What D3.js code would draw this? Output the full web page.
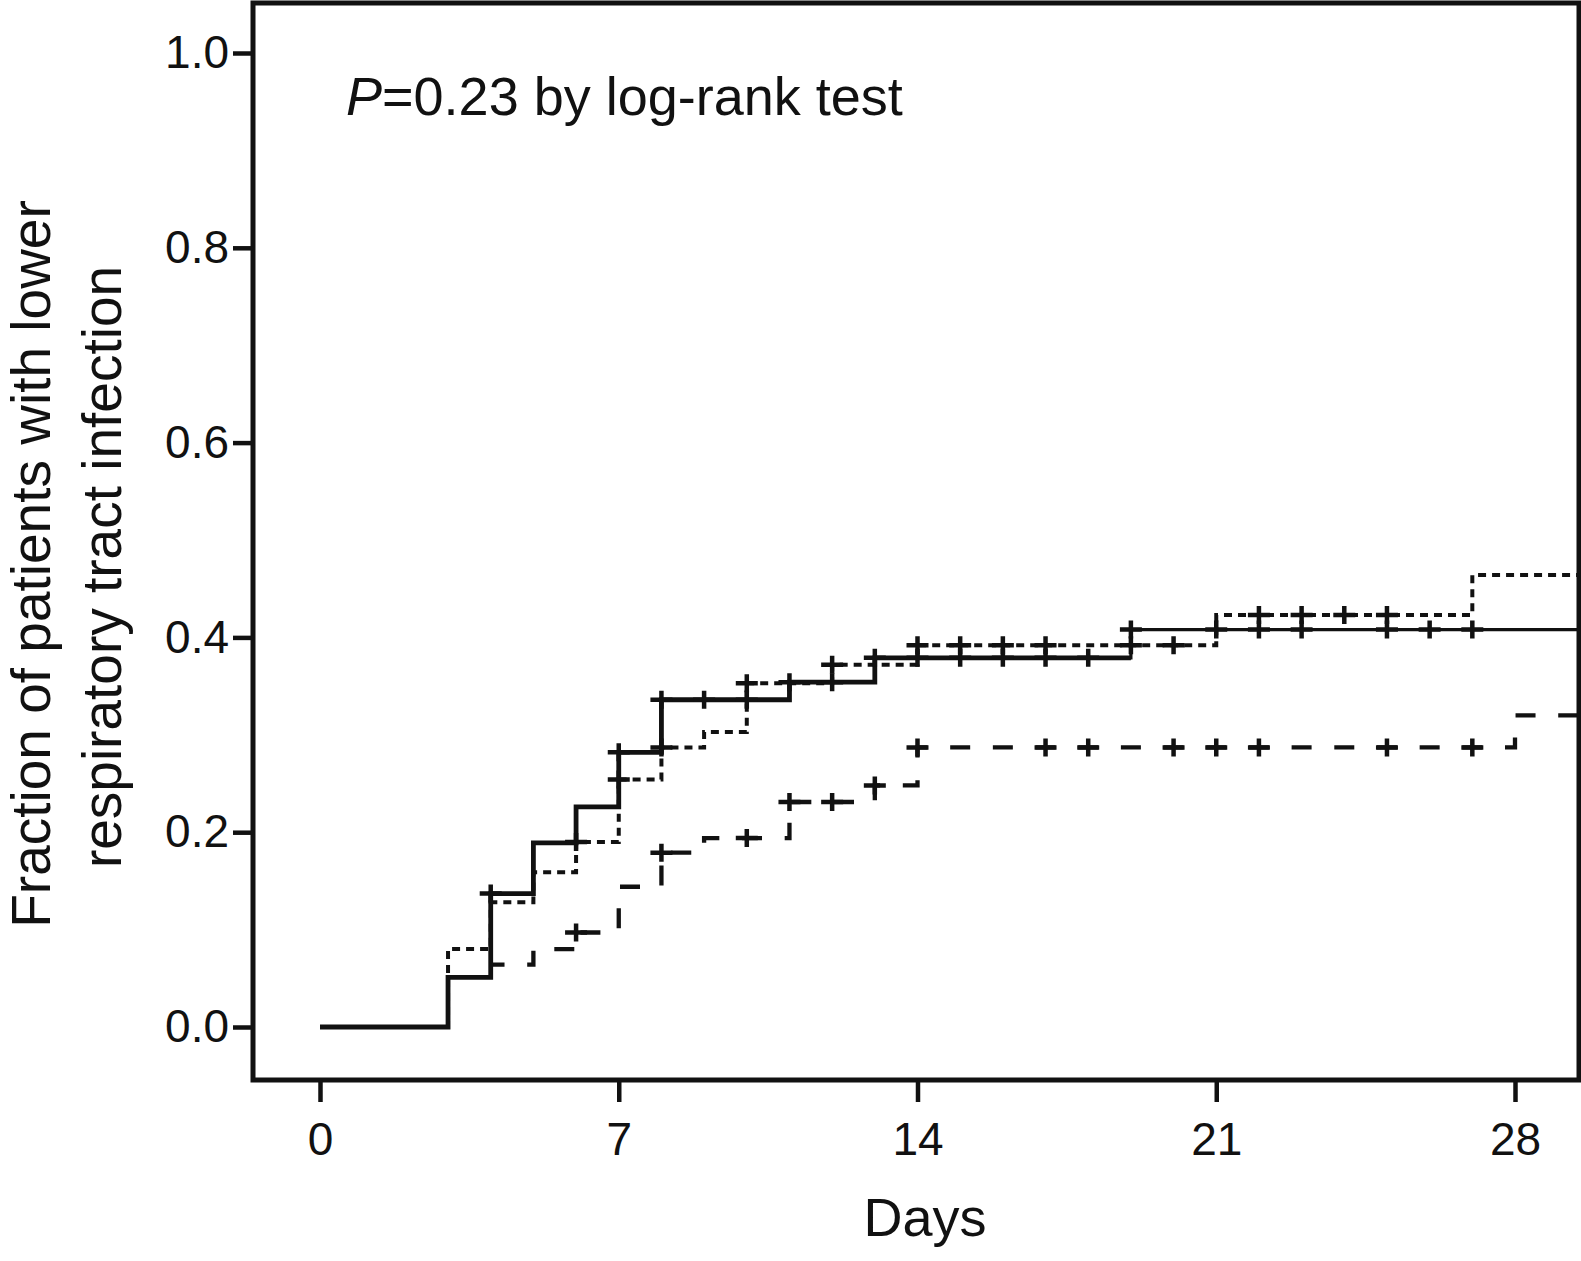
<!DOCTYPE html>
<html>
<head>
<meta charset="utf-8">
<script src="https://cdn.jsdelivr.net/npm/d3@7"></script>
<style>
  body { margin: 0; background: #fff; }
  text { font-family: "Liberation Sans", Arial, Helvetica, sans-serif; fill: #111; }
</style>
</head>
<body>
<div id="chart"></div>
<script>
// Kaplan-Meier style curves, three groups

var xTicks = [0, 7, 14, 21, 28];
var yTicks = [0, 0.2, 0.4, 0.6, 0.8, 1.0];

// solid group
var solidStepDays   = [0, 3, 4, 5, 6, 7, 8, 11, 13, 19];
var solidStepValues = [0, 0.051, 0.137, 0.189, 0.226, 0.282, 0.336, 0.354, 0.379, 0.408];
var solidCensorDays = [4, 7, 8, 9, 10, 11, 12, 13, 14, 15, 16, 17, 18, 19, 21, 22, 23, 25, 26, 27];

// dotted group
var dottedStepDays   = [0, 3, 4, 5, 6, 7, 8, 9, 10, 12, 14, 21, 27];
var dottedStepValues = [0, 0.080, 0.128, 0.159, 0.190, 0.254, 0.287, 0.303, 0.353, 0.372, 0.392, 0.423, 0.464];
var dottedCensorDays = [6, 7, 8, 10, 12, 14, 15, 16, 17, 19, 20, 22, 23, 24, 25];

// dashed group
var dashedStepDays   = [0, 4, 5, 6, 7, 8, 9, 11, 13, 14, 28];
var dashedStepValues = [0, 0.064, 0.080, 0.097, 0.144, 0.179, 0.194, 0.231, 0.248, 0.287, 0.320];
var dashedCensorDays = [6, 8, 10, 11, 12, 13, 14, 17, 18, 20, 21, 22, 25, 27];

var lastDay = 29.7;

var width = 1581, height = 1261;
var box = {left: 253, top: 3, right: 1579, bottom: 1080};

var x = d3.scaleLinear().domain([0, 28]).range([320, 1515]);
var y = d3.scaleLinear().domain([0, 1]).range([1027, 53]);

var svg = d3.select("#chart").append("svg")
    .attr("width", width)
    .attr("height", height);

svg.append("clipPath").attr("id", "plotClip")
  .append("rect")
    .attr("x", box.left).attr("y", box.top)
    .attr("width", box.right - box.left).attr("height", box.bottom - box.top);

function points(days, values) {
    var p = days.map(function (d, i) { return [d, values[i]]; });
    p.push([lastDay, values[values.length - 1]]);
    return p;
}

function valueAt(days, values, d) {
    var v = values[0];
    days.forEach(function (t, i) { if (t <= d) v = values[i]; });
    return v;
}

var line = d3.line()
    .x(function (d) { return x(d[0]); })
    .y(function (d) { return y(d[1]); })
    .curve(d3.curveStepAfter);

var plot = svg.append("g").attr("clip-path", "url(#plotClip)");

// dashed: the zero stretch lies under the solid curve, so start drawing at its first event.
// one dash per day, dashes centred on whole days along the long day-14 segment
var period = x(1) - x(0), dashLen = 20;
var dashedPts = points(dashedStepDays, dashedStepValues).filter(function (p) { return p[0] >= 4; });
var runLen = 0;
for (var i = 1; i < dashedPts.length; i++) {
    if (dashedPts[i - 1][0] === 14) break;
    runLen += x(dashedPts[i][0]) - x(dashedPts[i - 1][0]);
    runLen += Math.abs(y(dashedPts[i][1]) - y(dashedPts[i - 1][1]));
}
var dashOffset = (((dashLen / 2 - runLen) % period) + period) % period;

plot.append("path")
    .attr("d", line(dashedPts))
    .attr("fill", "none")
    .attr("stroke", "#111")
    .attr("stroke-width", 4.3)
    .attr("stroke-dasharray", dashLen + "," + (period - dashLen))
    .attr("stroke-dashoffset", dashOffset);

plot.append("path")
    .attr("d", line(points(dottedStepDays, dottedStepValues)))
    .attr("fill", "none")
    .attr("stroke", "#111")
    .attr("stroke-width", 4)
    .attr("stroke-dasharray", "8,6");

// solid: full curve thinner, early part heavier as in the print
plot.append("path")
    .attr("d", line(points(solidStepDays, solidStepValues)))
    .attr("fill", "none")
    .attr("stroke", "#111")
    .attr("stroke-width", 3.2);

var solidEarly = solidStepDays.map(function (d, i) { return [d, solidStepValues[i]]; })
    .filter(function (p) { return p[0] < 19; });
solidEarly.push([19, solidEarly[solidEarly.length - 1][1]]);
plot.append("path")
    .attr("d", line(solidEarly))
    .attr("fill", "none")
    .attr("stroke", "#111")
    .attr("stroke-width", 4.8);

// censor marks
function censor(days, stepDays, stepValues) {
    plot.append("g").selectAll("path")
        .data(days)
        .enter().append("path")
        .attr("d", function (d) {
            var cx = x(d), cy = y(valueAt(stepDays, stepValues, d));
            return "M" + (cx - 11) + "," + cy + "H" + (cx + 11) +
                   "M" + cx + "," + (cy - 9) + "V" + (cy + 9);
        })
        .attr("fill", "none")
        .attr("stroke", "#111")
        .attr("stroke-width", 4.5);
}
censor(dashedCensorDays, dashedStepDays, dashedStepValues);
censor(dottedCensorDays, dottedStepDays, dottedStepValues);
censor(solidCensorDays, solidStepDays, solidStepValues);

// frame
svg.append("rect")
    .attr("x", box.left).attr("y", box.top)
    .attr("width", box.right - box.left).attr("height", box.bottom - box.top)
    .attr("fill", "none")
    .attr("stroke", "#111")
    .attr("stroke-width", 5);

// axes
var yAxis = svg.append("g")
    .attr("transform", "translate(" + box.left + ",0)")
    .call(d3.axisLeft(y).tickValues(yTicks).tickFormat(d3.format(".1f")).tickSize(20).tickPadding(4));
yAxis.select(".domain").remove();
yAxis.selectAll("line").attr("stroke", "#111").attr("stroke-width", 4.5);
yAxis.selectAll("text").attr("font-size", 46).attr("fill", "#111")
    .style("font-family", "'Liberation Sans', Arial, Helvetica, sans-serif");

var xAxis = svg.append("g")
    .attr("transform", "translate(0," + box.bottom + ")")
    .call(d3.axisBottom(x).tickValues(xTicks).tickFormat(d3.format("d")).tickSize(22).tickPadding(20));
xAxis.select(".domain").remove();
xAxis.selectAll("line").attr("stroke", "#111").attr("stroke-width", 4.5);
xAxis.selectAll("text").attr("font-size", 46).attr("fill", "#111")
    .style("font-family", "'Liberation Sans', Arial, Helvetica, sans-serif");

// titles
svg.append("text")
    .attr("x", 925).attr("y", 1236)
    .attr("text-anchor", "middle")
    .attr("font-size", 54)
    .text("Days");

svg.append("text")
    .attr("transform", "translate(50,564) rotate(-90)")
    .attr("text-anchor", "middle")
    .attr("font-size", 55)
    .text("Fraction of patients with lower");

svg.append("text")
    .attr("transform", "translate(121,567) rotate(-90)")
    .attr("text-anchor", "middle")
    .attr("font-size", 55)
    .text("respiratory tract infection");

var pText = svg.append("text")
    .attr("x", 346).attr("y", 115)
    .attr("font-size", 54);
pText.append("tspan").attr("font-style", "italic").text("P");
pText.append("tspan").text("=0.23 by log-rank test");
</script>
</body>
</html>
